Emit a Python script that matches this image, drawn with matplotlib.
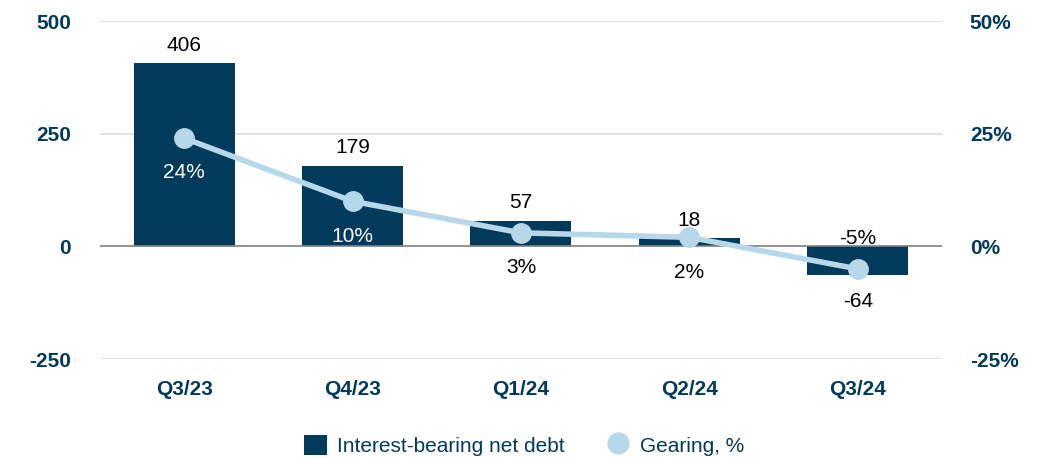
import numpy as np
import matplotlib.pyplot as plt
from matplotlib.lines import Line2D
from matplotlib.patches import Patch

plt.rcParams['font.family'] = ['Liberation Sans', 'DejaVu Sans']
plt.rcParams['axes.unicode_minus'] = False

quarters = ['Q3/23', 'Q4/23', 'Q1/24', 'Q2/24', 'Q3/24']
net_debt = [406, 179, 57, 18, -64]
gearing = [24, 10, 3, 2, -5]

navy = '#023a5c'
light = '#b7d7ea'
fs = 15

fig = plt.figure(figsize=(10.38, 4.57), dpi=100)
ax = fig.add_axes([0.0963, 0.2144, 0.8112, 0.7396])
ax2 = ax.twinx()

x = np.arange(len(quarters))

# bars for net debt
ax.bar(x, net_debt, width=0.6, color=navy, zorder=2)
ax.set_ylim(-250, 500)
ax.set_yticks([-250, 0, 250, 500])
ax.set_xlim(-0.5, len(quarters) - 0.5)
ax.set_xticks(x)
ax.set_xticklabels(quarters, fontsize=fs, fontweight='bold', color=navy)
ax.tick_params(axis='x', length=0, pad=15)
ax.tick_params(axis='y', length=0, pad=21, labelsize=fs, labelcolor=navy)
for lab in ax.get_yticklabels():
    lab.set_fontweight('bold')
for v in [-250, 250, 500]:
    ax.axhline(v, color='#dcdcdc', lw=1.2, zorder=0)
ax.axhline(0, color='#7f7f7f', lw=1.2, zorder=3)
for s in ax.spines.values():
    s.set_visible(False)

# gearing line
ax2.plot(x, gearing, color=light, lw=4, marker='o', markersize=14, zorder=4)
ax2.set_ylim(-25, 50)
ax2.set_yticks([-25, 0, 25, 50])
ax2.set_yticklabels(['-25%', '0%', '25%', '50%'])
ax2.tick_params(axis='y', length=0, pad=20, labelsize=fs, labelcolor=navy)
for lab in ax2.get_yticklabels():
    lab.set_fontweight('bold')
for s in ax2.spines.values():
    s.set_visible(False)

# value labels on bars
for xi, v in zip(x, net_debt):
    off = 13 if v >= 0 else -19
    ax.annotate(str(v), (xi, v), xytext=(0, off), textcoords='offset points',
                ha='center', va='center', fontsize=fs, color='black')

# gearing labels
for xi, g, v in zip(x, gearing, net_debt):
    txt = f'{g}%'
    if g < 0:
        ax2.annotate(txt, (xi, g), xytext=(0, 22), textcoords='offset points',
                     ha='center', va='center', fontsize=fs, color='black')
    else:
        col = 'white' if v > 100 else 'black'
        ax2.annotate(txt, (xi, g), xytext=(0, -25), textcoords='offset points',
                     ha='center', va='center', fontsize=fs, color=col)

handles = [Patch(facecolor=navy, label='Interest-bearing net debt'),
           Line2D([], [], color=light, marker='o', markersize=15, lw=0,
                  label='Gearing, %')]
leg = fig.legend(handles=handles, loc='center', bbox_to_anchor=(0.505, 0.026),
                 ncol=2, frameon=False, fontsize=fs, handlelength=1.1,
                 handleheight=1.1, handletextpad=0.5, columnspacing=2.0)
for t in leg.get_texts():
    t.set_color(navy)

fig.savefig('out.png', dpi=100)
